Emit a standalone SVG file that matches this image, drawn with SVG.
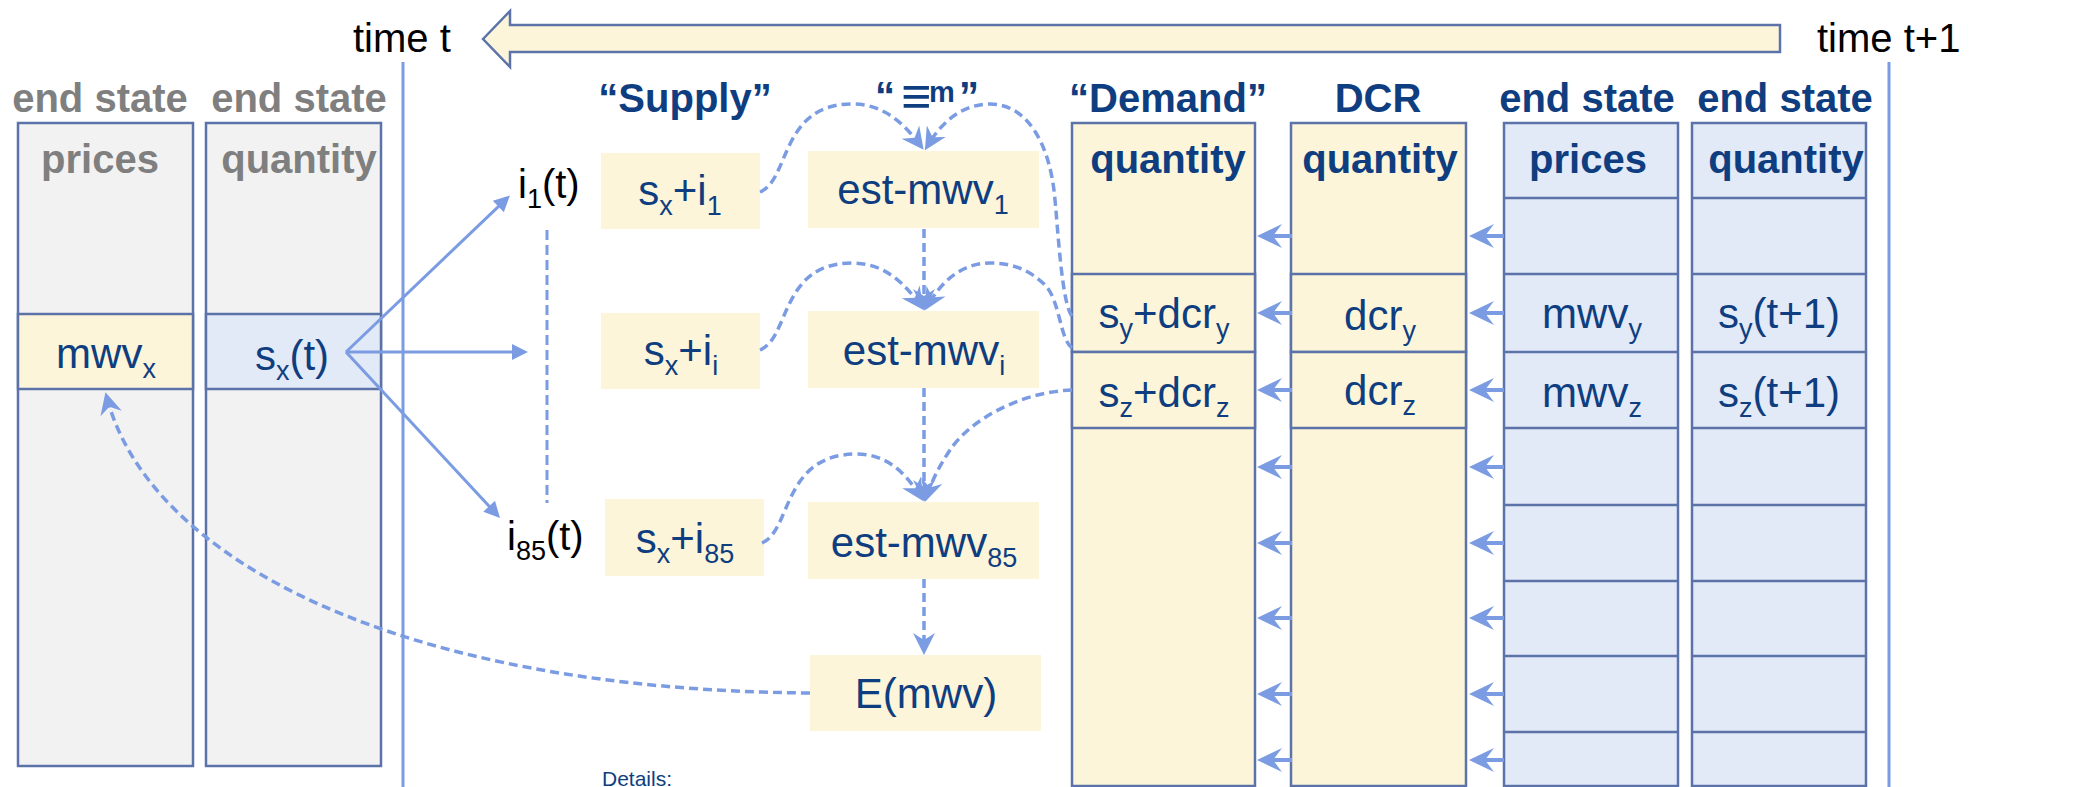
<svg xmlns="http://www.w3.org/2000/svg" xmlns:xlink="http://www.w3.org/1999/xlink" width="2082" height="787" viewBox="0 0 2082 787">
<style>
  text { font-family: "Liberation Sans", Arial, sans-serif; }
  .hdr { font-size: 40px; font-weight: bold; fill: #0f3e80; text-anchor: middle; }
  .hdrg { font-size: 40px; font-weight: bold; fill: #7f7f7f; text-anchor: middle; }
  .cell { font-size: 42px; fill: #0f3e80; text-anchor: middle; }
  .blk { font-size: 40px; fill: #000000; }
  .col { stroke: #5b73a8; stroke-width: 2.5; }
  .grey { fill: #f2f2f2; }
  .cream { fill: #fcf5d9; }
  .blue { fill: #e2e9f7; }
  .conn { fill: none; stroke: #7b9ce2; stroke-width: 3; }
  .dash { fill: none; stroke: #7b9ce2; stroke-width: 3.5; stroke-dasharray: 9 5; }
  .vline { fill: none; stroke: #7b9ce2; stroke-width: 3; }
</style>
<defs>
  <marker id="tri" viewBox="-14 -9 20 18" markerWidth="20" markerHeight="18" refX="0" refY="0" orient="auto" markerUnits="userSpaceOnUse">
    <path d="M4,0 L-12,-8 L-12,8 Z" fill="#7b9ce2"/>
  </marker>
  <marker id="stl" viewBox="-18 -12 26 24" markerWidth="26" markerHeight="24" refX="0" refY="0" orient="auto" markerUnits="userSpaceOnUse">
    <path d="M6,0 L-16,-11 L-9,0 L-16,11 Z" fill="#7b9ce2"/>
  </marker>
  <g id="la">
    <line x1="14" y1="0" x2="35" y2="0" stroke="#7b9ce2" stroke-width="4"/>
    <path d="M0,0 L25,-12 L16,0 L25,12 Z" fill="#7b9ce2"/>
  </g>
</defs>
<rect width="2082" height="787" fill="#ffffff"/>

<g id="timeline">
  <polygon points="483,39 510,11 510,25 1780,25 1780,52 510,52 510,67" fill="#fcf5d9" stroke="#5b73a8" stroke-width="2.5"/>
  <text class="blk" x="353" y="52">time t</text>
  <text class="blk" x="1817" y="52">time t+1</text>
  <line class="vline" x1="403" y1="62" x2="403" y2="787"/>
  <line class="vline" x1="1889" y1="62" x2="1889" y2="787"/>
</g>

<g id="headers">
  <text class="hdrg" x="100" y="112">end state</text>
  <text class="hdrg" x="299" y="112">end state</text>
  <text class="hdr" x="685" y="112">“Supply”</text>
  <text class="hdr" x="875" y="110" style="text-anchor:start">“<tspan x="901" y="114" font-size="52">≡</tspan><tspan x="929" y="102" font-size="29">m</tspan><tspan x="959" y="110">”</tspan></text>
  <text class="hdr" x="1168" y="112">“Demand”</text>
  <text class="hdr" x="1378" y="112">DCR</text>
  <text class="hdr" x="1587" y="112">end state</text>
  <text class="hdr" x="1785" y="112">end state</text>
</g>

<g id="left-prices">
  <rect class="col grey" x="18" y="123" width="175" height="643"/>
  <rect class="col cream" x="18" y="314" width="175" height="75"/>
  <text class="hdrg" x="100" y="173">prices</text>
  <text class="cell" x="106" y="368">mwv<tspan font-size="27" dy="10">x</tspan></text>
</g>

<g id="left-quantity">
  <rect class="col grey" x="206" y="123" width="175" height="643"/>
  <rect class="col blue" x="206" y="314" width="175" height="75"/>
  <text class="hdrg" x="299" y="173">quantity</text>
  <text class="cell" x="292" y="370">s<tspan font-size="27" dy="10">x</tspan><tspan dy="-10">(t)</tspan></text>
</g>

<g id="i-labels">
  <text class="blk" x="518" y="198">i<tspan font-size="27" dy="10">1</tspan><tspan dy="-10">(t)</tspan></text>
  <text class="blk" x="507" y="550">i<tspan font-size="27" dy="10">85</tspan><tspan dy="-10">(t)</tspan></text>
</g>

<g id="supply-1">
  <rect class="cream" x="601" y="153" width="159" height="76"/>
  <text class="cell" x="680" y="205">s<tspan font-size="27" dy="10">x</tspan><tspan dy="-10">+i</tspan><tspan font-size="27" dy="10">1</tspan></text>
</g>
<g id="supply-i">
  <rect class="cream" x="601" y="313" width="159" height="76"/>
  <text class="cell" x="681" y="365">s<tspan font-size="27" dy="10">x</tspan><tspan dy="-10">+i</tspan><tspan font-size="27" dy="10">i</tspan></text>
</g>
<g id="supply-85">
  <rect class="cream" x="605" y="499" width="159" height="77"/>
  <text class="cell" x="685" y="553">s<tspan font-size="27" dy="10">x</tspan><tspan dy="-10">+i</tspan><tspan font-size="27" dy="10">85</tspan></text>
</g>

<g id="est-1">
  <rect class="cream" x="808" y="151" width="231" height="77"/>
  <text class="cell" x="923" y="204">est-mwv<tspan font-size="27" dy="10">1</tspan></text>
</g>
<g id="est-i">
  <rect class="cream" x="808" y="311" width="231" height="77"/>
  <text class="cell" x="924" y="365">est-mwv<tspan font-size="27" dy="10">i</tspan></text>
</g>
<g id="est-85">
  <rect class="cream" x="808" y="502" width="231" height="77"/>
  <text class="cell" x="924" y="557">est-mwv<tspan font-size="27" dy="10">85</tspan></text>
</g>
<g id="expect">
  <rect class="cream" x="810" y="655" width="231" height="76"/>
  <text class="cell" x="926" y="708">E(mwv)</text>
</g>

<g id="demand">
  <rect class="col cream" x="1072" y="123" width="183" height="663"/>
  <rect class="col cream" x="1072" y="274" width="183" height="78"/>
  <rect class="col cream" x="1072" y="352" width="183" height="76"/>
  <text class="hdr" x="1168" y="173">quantity</text>
  <text class="cell" x="1164" y="328">s<tspan font-size="27" dy="10">y</tspan><tspan dy="-10">+dcr</tspan><tspan font-size="27" dy="10">y</tspan></text>
  <text class="cell" x="1164" y="407">s<tspan font-size="27" dy="10">z</tspan><tspan dy="-10">+dcr</tspan><tspan font-size="27" dy="10">z</tspan></text>
</g>

<g id="dcr">
  <rect class="col cream" x="1291" y="123" width="175" height="663"/>
  <rect class="col cream" x="1291" y="274" width="175" height="78"/>
  <rect class="col cream" x="1291" y="352" width="175" height="76"/>
  <text class="hdr" x="1380" y="173">quantity</text>
  <text class="cell" x="1380" y="330">dcr<tspan font-size="27" dy="10">y</tspan></text>
  <text class="cell" x="1380" y="405">dcr<tspan font-size="27" dy="10">z</tspan></text>
</g>

<g id="end-prices">
  <rect class="col blue" x="1504" y="123" width="174" height="663"/>
  <path class="col" fill="none" d="M1504,198 H1678 M1504,274 H1678 M1504,352 H1678 M1504,428 H1678 M1504,505 H1678 M1504,581 H1678 M1504,656 H1678 M1504,732 H1678"/>
  <text class="hdr" x="1588" y="173">prices</text>
  <text class="cell" x="1592" y="328">mwv<tspan font-size="27" dy="10">y</tspan></text>
  <text class="cell" x="1592" y="407">mwv<tspan font-size="27" dy="10">z</tspan></text>
</g>

<g id="end-quantity">
  <rect class="col blue" x="1692" y="123" width="174" height="663"/>
  <path class="col" fill="none" d="M1692,198 H1866 M1692,274 H1866 M1692,352 H1866 M1692,428 H1866 M1692,505 H1866 M1692,581 H1866 M1692,656 H1866 M1692,732 H1866"/>
  <text class="hdr" x="1786" y="173">quantity</text>
  <text class="cell" x="1779" y="328">s<tspan font-size="27" dy="10">y</tspan><tspan dy="-10">(t+1)</tspan></text>
  <text class="cell" x="1779" y="407">s<tspan font-size="27" dy="10">z</tspan><tspan dy="-10">(t+1)</tspan></text>
</g>

<g id="details">
  <text x="602" y="786" font-size="21" fill="#0f3e80">Details:</text>
</g>

<g id="connectors">
  <line class="conn" x1="346" y1="352" x2="507" y2="198.3" marker-end="url(#tri)"/>
  <line class="conn" x1="346" y1="352" x2="524" y2="352" marker-end="url(#tri)"/>
  <line class="conn" x1="346" y1="352" x2="497.3" y2="515" marker-end="url(#tri)"/>
  <line x1="547" y1="230" x2="547" y2="503" fill="none" stroke="#7b9ce2" stroke-width="3" stroke-dasharray="10 5"/>

  <path class="dash" d="M760,192 C790,180 780,104 852,104 C885,104 905,125 920,145" marker-end="url(#stl)"/>
  <path class="dash" d="M1072,316 C1062,305 1058,230 1055,200 C1050,140 1025,104 990,104 C960,104 940,125 928,145" marker-end="url(#stl)"/>
  <path class="dash" d="M924,229 V305" marker-end="url(#stl)"/>

  <path class="dash" d="M760,350 C790,338 780,263 852,263 C885,263 905,284 920,305" marker-end="url(#stl)"/>
  <path class="dash" d="M1072,348 C1060,340 1060,300 1045,285 C1030,270 1012,263 990,263 C960,263 940,284 928,305" marker-end="url(#stl)"/>
  <path class="dash" d="M924,388 V496" marker-end="url(#stl)"/>

  <path class="dash" d="M762,543 C792,530 782,454 857,454 C888,454 907,475 920,496" marker-end="url(#stl)"/>
  <path class="dash" d="M1072,390 C1020,392 970,420 950,450 C940,465 932,480 927,496" marker-end="url(#stl)"/>
  <path class="dash" d="M924,579 V649" marker-end="url(#stl)"/>

  <path class="dash" d="M810,693 C400,690 150,560 107,398" marker-end="url(#stl)"/>

  <use xlink:href="#la" x="1257" y="236"/>
  <use xlink:href="#la" x="1257" y="313"/>
  <use xlink:href="#la" x="1257" y="390"/>
  <use xlink:href="#la" x="1257" y="467"/>
  <use xlink:href="#la" x="1257" y="543"/>
  <use xlink:href="#la" x="1257" y="618"/>
  <use xlink:href="#la" x="1257" y="694"/>
  <use xlink:href="#la" x="1257" y="760"/>
  <use xlink:href="#la" x="1469" y="236"/>
  <use xlink:href="#la" x="1469" y="313"/>
  <use xlink:href="#la" x="1469" y="390"/>
  <use xlink:href="#la" x="1469" y="467"/>
  <use xlink:href="#la" x="1469" y="543"/>
  <use xlink:href="#la" x="1469" y="618"/>
  <use xlink:href="#la" x="1469" y="694"/>
  <use xlink:href="#la" x="1469" y="760"/>
</g>
</svg>
